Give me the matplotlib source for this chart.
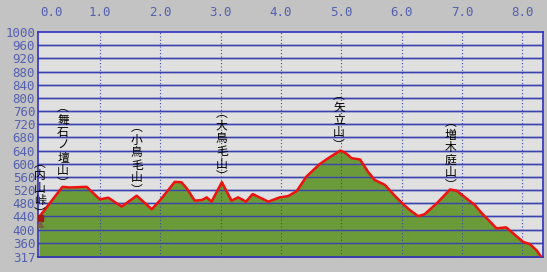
import numpy as np
import matplotlib
matplotlib.use('Agg')
import matplotlib.pyplot as plt
from matplotlib.transforms import ScaledTranslation

plt.rcParams['font.family'] = ['Noto Sans CJK JP', 'DejaVu Sans']

# course profile: distance (km) / elevation (m)
dist = [0.00, 0.38, 0.50, 0.78, 1.00, 1.14, 1.36, 1.61, 1.86, 2.00,
        2.24, 2.35, 2.44, 2.57, 2.69, 2.77, 2.85, 3.02, 3.18, 3.29,
        3.42, 3.53, 3.79, 3.98, 4.12, 4.26, 4.42, 4.64, 4.75, 4.98,
        5.06, 5.17, 5.31, 5.44, 5.55, 5.72, 5.89, 6.02, 6.13, 6.27,
        6.38, 6.58, 6.80, 6.91, 7.21, 7.32, 7.57, 7.73, 8.01, 8.12,
        8.23, 8.31]
elev = [440, 530, 528, 530, 492, 497, 470, 503, 462, 490,
        545, 544, 525, 488, 490, 498, 485, 544, 488, 498,
        485, 508, 485, 498, 502, 517, 561, 599, 613, 640,
        634, 617, 613, 576, 551, 536, 502, 478, 460, 441,
        447, 480, 522, 518, 475, 451, 404, 407, 363, 356,
        338, 317]

# waypoint names
names = ['内山峠', '舞石ノ壇山', '小鳥毛山', '大鳥毛山', '矢立山', '増木庭山']
name_x = [0.0, 0.39, 1.61, 3.02, 4.96, 6.81]
name_top = [622, 790, 730, 772, 828, 745]

xticks = [0, 1, 2, 3, 4, 5, 6, 7, 8]
yticks = [317] + list(range(360, 1001, 40))

bg = '#c3c3c3'
grid_c = '#3a44b0'
lab_c = '#5460b0'

fig = plt.figure(figsize=(5.47, 2.72), dpi=100, facecolor=bg)
ax = fig.add_axes([38/547, 15/272, 505/547, 225/272])
ax.set_facecolor('#e0e0e0')

for y in yticks[1:-1]:
    ax.axhline(y, color=grid_c, lw=1.0, zorder=1)
for x in xticks[1:]:
    ax.axvline(x, color=grid_c, lw=0.8, ls=(0, (1, 2)), zorder=3)

ax.fill_between(dist, elev, 317, color='#6b9b38', zorder=2)
for y in yticks[1:-1]:
    ax.axhline(y, color=grid_c, lw=1.0, zorder=2.5)
ax.plot(dist, elev, color='#f01010', lw=1.8, zorder=4, solid_joinstyle='round')
ax.plot(dist[0], elev[0] - 4, marker='s', color='#a01818', ms=4, zorder=5)
ax.plot(dist[0], elev[0] - 22, marker='^', color='#7a6040', ms=4, zorder=5)

for n, x, t in zip(names, name_x, name_top):
    txt = '\n'.join('︵' + n + '︶')
    ax.text(x, t, txt, ha='center', va='top', fontsize=8.5,
            linespacing=0.96, color='black', zorder=6)

ax.set_xlim(-0.025, 8.34)
ax.set_ylim(317, 1000)
ax.set_xticks(xticks)
ax.set_xticklabels(['%.1f' % v for v in xticks])
ax.set_yticks(yticks)
ax.xaxis.tick_top()
ax.tick_params(length=0, colors=lab_c, labelsize=9)
ax.tick_params(axis='x', pad=9)
ax.tick_params(axis='y', pad=2)
for lbl in ax.get_xticklabels() + ax.get_yticklabels():
    lbl.set_fontfamily('DejaVu Sans Mono')
first = ax.get_xticklabels()[0]
first.set_transform(first.get_transform() + ScaledTranslation(12/100, 0, fig.dpi_scale_trans))

for s in ax.spines.values():
    s.set_color('#3030c0')
    s.set_linewidth(1.2)

fig.savefig('out.png', dpi=100, facecolor=bg)
